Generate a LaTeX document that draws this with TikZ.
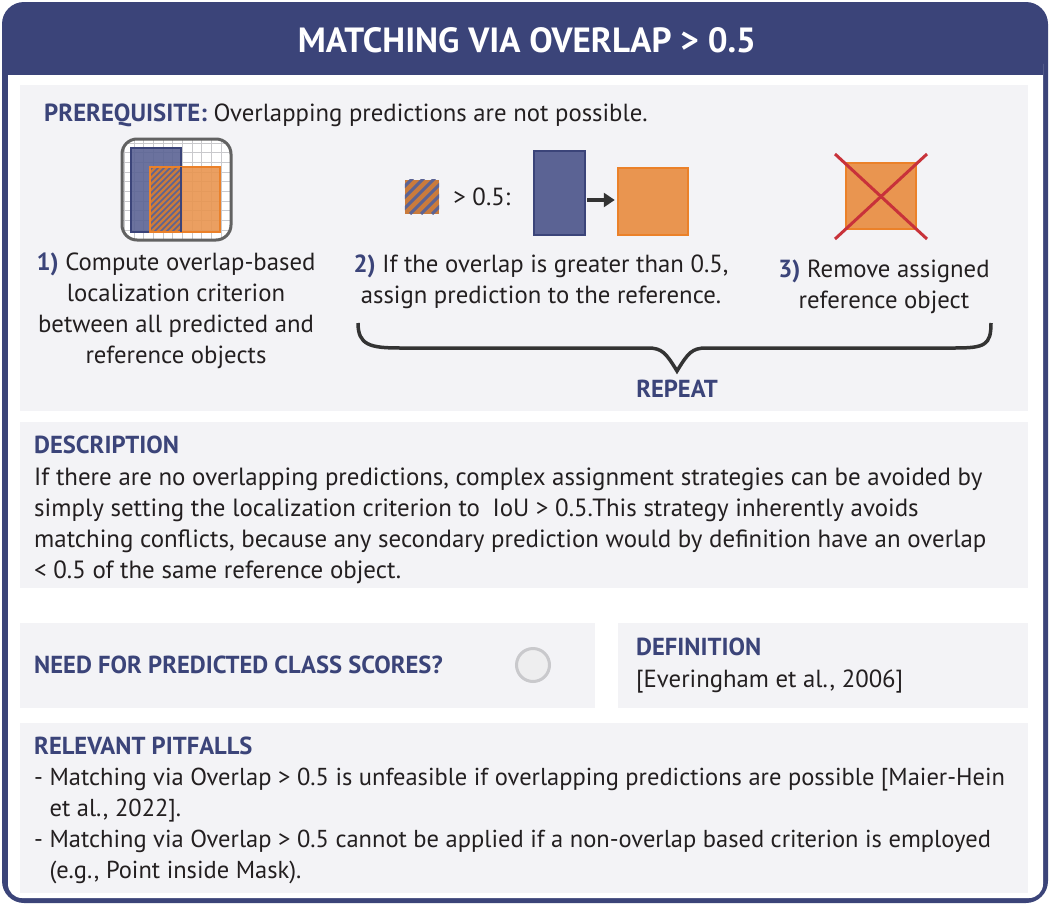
\documentclass[tikz,border=0pt]{standalone}
\usepackage{fontspec}
\setmainfont{PT Sans}
\usetikzlibrary{arrows.meta,positioning,calc}
\definecolor{Navy}{HTML}{3B4479}
\definecolor{Ink}{HTML}{231F20}
\definecolor{Panel}{HTML}{F3F3F6}
\definecolor{PredBlue}{HTML}{5B6394}
\definecolor{PredOrange}{HTML}{E99550}
\definecolor{OrangeLine}{HTML}{EB8129}
\definecolor{HatchBase}{HTML}{C97B3D}
\definecolor{Cross}{HTML}{C8323A}
\definecolor{Frame}{HTML}{626262}
\definecolor{GridLine}{HTML}{C9C9CC}
\definecolor{DotFill}{HTML}{EEEEEF}
\definecolor{Arrow}{HTML}{333333}
\newcommand{\StepNo}[1]{\textcolor{Navy}{\bfseries #1}}

\begin{document}
\begin{tikzpicture}[x=1pt,y=-1pt,
  txt/.style={font=\fontsize{24.75}{30.8}\selectfont,text=Ink,inner sep=0pt},
  head/.style={txt,font=\fontsize{24.6}{30.8}\selectfont\bfseries,text=Navy},
  steptxt/.style={txt,align=center,anchor=base},
  predblue/.style={draw=Navy,fill=PredBlue,line width=2.5pt,inner sep=0pt},
  predorange/.style={draw=OrangeLine,fill=PredOrange,line width=2.5pt,inner sep=0pt},
  stripe/.style={PredBlue,line width=#1},
  crossline/.style={Cross,line width=3pt}]
\useasboundingbox (0,0) rectangle (1050,905);
% frame and header
\fill[Navy,rounded corners=22pt] (2,2) rectangle (1048,903);
\fill[white,rounded corners=14pt] (8,50) rectangle (1043,898);
\fill[Navy] (8,45) rectangle (1043,75);
\node[font=\fontsize{35}{40}\selectfont\bfseries,text=white,anchor=base] (title) at (527,52) {MATCHING VIA OVERLAP > 0.5};
\foreach \xa/\ya/\xb/\yb in {20/85/1028/411, 20/422/1028/588, 20/623/595/708, 618/623/1028/708, 20/723/1028/893}
  \fill[Panel] (\xa,\ya) rectangle (\xb,\yb);

% prerequisite
\node[txt,anchor=base west] (prereq) at (44,121) {\textcolor{Navy}{\bfseries PREREQUISITE:} Overlapping predictions are not possible.};

% icon 1: grid with overlapping boxes
\begin{scope}
  \clip[rounded corners=15pt] (122,139) rectangle (231,240);
  \fill[white] (122,139) rectangle (231,240);
  \foreach \k in {0,...,11} {
    \draw[GridLine,line width=1pt] ({124.5+9.67*\k},139) -- ++(0,101);
    \draw[GridLine,line width=1pt] (122,{143+9.67*\k}) -- ++(109,0);
  }
  \fill[PredBlue,fill opacity=0.9] (131,148) rectangle (181,232);
  \draw[Navy,line width=2.5pt] (131,148) rectangle (181,232);
  \fill[PredOrange,fill opacity=0.9] (150,167) rectangle (220,232);
  \begin{scope}
    \clip (150,167) rectangle (181,232);
    \fill[HatchBase] (150,167) rectangle (181,232);
    \foreach \k in {0,...,17} \draw[stripe=1.6pt] ({82+6*\k},232) -- ++(70,-70);
  \end{scope}
  \draw[OrangeLine,line width=2.5pt] (150,167) rectangle (220,232);
  \draw[Navy,line width=1.5pt] (181,167) -- (181,232);
\end{scope}
\draw[Frame,line width=3pt,rounded corners=15pt] (122,139) rectangle (231,240);
\node[steptxt] (step1) at (176,363) {\StepNo{1)} Compute overlap-based\\localization criterion\\between all predicted and\\reference objects};

% icon 2: assignment
\node[minimum size=34pt,inner sep=0pt] (hatchKey) at (422,197) {};
\begin{scope}
  \clip (hatchKey.north west) rectangle (hatchKey.south east);
  \fill[HatchBase] (hatchKey.north west) rectangle (hatchKey.south east);
  \foreach \k in {0,...,6} \draw[stripe=3pt] ({366+11*\k},214) -- ++(40,-40);
\end{scope}
\node[txt,right=14pt of hatchKey] (gtKey) {> 0.5:};
\node[predblue,minimum width=51pt,minimum height=84pt] (blueB) at (559.5,193) {};
\node[predorange,minimum width=70pt,minimum height=67pt] (orangeB) at (653,201.5) {};
\draw[Arrow,line width=3.5pt,-{Triangle[length=11pt,width=14pt]},shorten <=1pt,shorten >=2pt] (blueB.east |- 0,200) -- (orangeB.west |- 0,200);
\node[steptxt] (step2) at (541,303) {\StepNo{2)} If the overlap is greater than 0.5,\\assign prediction to the reference.};

% icon 3: removed reference
\node[predorange,minimum width=70pt,minimum height=66pt] (removed) at (881,196) {};
\draw[crossline] (835,154) -- (927,239);
\draw[crossline] (927,154) -- (835,239);
\node[steptxt] (step3) at (884,308) {\StepNo{3)} Remove assigned\\reference object};

% repeat brace
\draw[Arrow,line width=3.5pt] (358,323) .. controls (358,345) and (370,348) .. (400,348) -- (648,348)
  .. controls (662,348) and (666,353) .. (677,371) .. controls (688,353) and (692,348) .. (706,348)
  -- (955,348) .. controls (985,348) and (991,345) .. (991,323);
\node[head,anchor=base] (repeat) at (677,397) {REPEAT};

% description
\node[head,anchor=base west] (descHead) at (34,453) {DESCRIPTION};
\node[txt,align=left,anchor=base west,font=\fontsize{24.9}{31}\selectfont] (desc) at (34,578) {If there are no overlapping predictions, complex assignment strategies can be avoided by\\simply setting the localization criterion to\enspace IoU > 0.5.This strategy inherently avoids\\matching conflicts, because any secondary prediction would by definition have an overlap\\< 0.5 of the same reference object.};

% class scores and definition
\node[head,anchor=base west] (scoreHead) at (34,673) {NEED FOR PREDICTED CLASS SCORES?};
\node[circle,draw=GridLine,fill=DotFill,line width=3pt,minimum size=33pt,inner sep=0pt] (scoreDot) at (533,665) {};
\node[head,anchor=base west] (defHead) at (636,655) {DEFINITION};
\node[txt,anchor=base west] (defRef) at (636,687) {[Everingham et al., 2006]};

% pitfalls
\node[head,anchor=base west] (pitHead) at (34,754) {RELEVANT PITFALLS};
\node[txt,align=left,anchor=base west,font=\fontsize{24.5}{30.7}\selectfont] (pitfalls) at (34,878) {- Matching via Overlap > 0.5 is unfeasible if overlapping predictions are possible [Maier-Hein\\\phantom{- }et al., 2022].\\- Matching via Overlap > 0.5 cannot be applied if a non-overlap based criterion is employed\\\phantom{- }(e.g., Point inside Mask).};
\end{tikzpicture}
\end{document}
